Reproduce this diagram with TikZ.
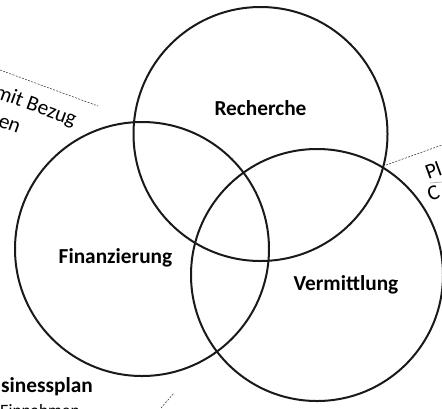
\documentclass[tikz,border=0pt]{standalone}
\usepackage{fontspec}
\setmainfont{Carlito}
\begin{document}
\begin{tikzpicture}[x=0.75pt,y=-0.75pt,
  ring/.style={draw=black!90,line width=1.5pt,circle,minimum size=#1*0.75pt,inner sep=0pt,outer sep=0pt},
  lbl/.style={font=\bfseries\fontsize{16}{19}\selectfont,inner sep=0pt,anchor=base},
  side/.style={font=\fontsize{16}{19}\selectfont,inner sep=0pt},
  small/.style={font=\fontsize{13}{15}\selectfont,inner sep=0pt},
  sidebold/.style={font=\bfseries\fontsize{16}{19}\selectfont,inner sep=0pt},
  leader/.style={draw=black!80,line width=0.4pt,dash pattern=on 1.5pt off 1pt}]
\useasboundingbox (0,0) rectangle (442,408);
\clip (0,0) rectangle (442,408);
\node[ring=254] (rech) at (260.5,134) {};
\node[ring=254] (fin) at (142,249) {};
\node[ring=252] (verm) at (317,275) {};
\node[lbl] (trech) at (260.5,115) {Recherche};
\node[lbl] (tfin) at (115.5,263) {Finanzierung};
\node[lbl] (tverm) at (346,290) {Vermittlung};
\node[side,rotate=-20,anchor=base west] (tbez) at (-7,97) {mit Bezug};
\node[side,rotate=-20,anchor=base west] (ten) at (-3,126) {en};
\node[sidebold,anchor=base east] (tbus) at (93,392) {Businessplan};
\node[small,anchor=base east] (tein) at (80,416) {Einnahmen};
\node[side,rotate=20,anchor=base west] (tpl) at (428,180) {Pl};
\node[side,rotate=20,anchor=base west] (tc) at (430,202) {C};
\coordinate (a1) at (0,70);
\coordinate (a2) at (98,106);
\coordinate (b1) at (386,165);
\coordinate (b2) at (442,145);
\coordinate (c1) at (161,408);
\coordinate (c2) at (174,393);
\coordinate (u1) at (430,183);
\coordinate (u2) at (442,182);
\draw[leader] (a1) -- (a2);
\draw[leader] (b1) -- (b2);
\draw[leader] (c1) -- (c2);
\draw[black!40,line width=0.4pt] (u1) -- (u2);
\end{tikzpicture}
\end{document}
